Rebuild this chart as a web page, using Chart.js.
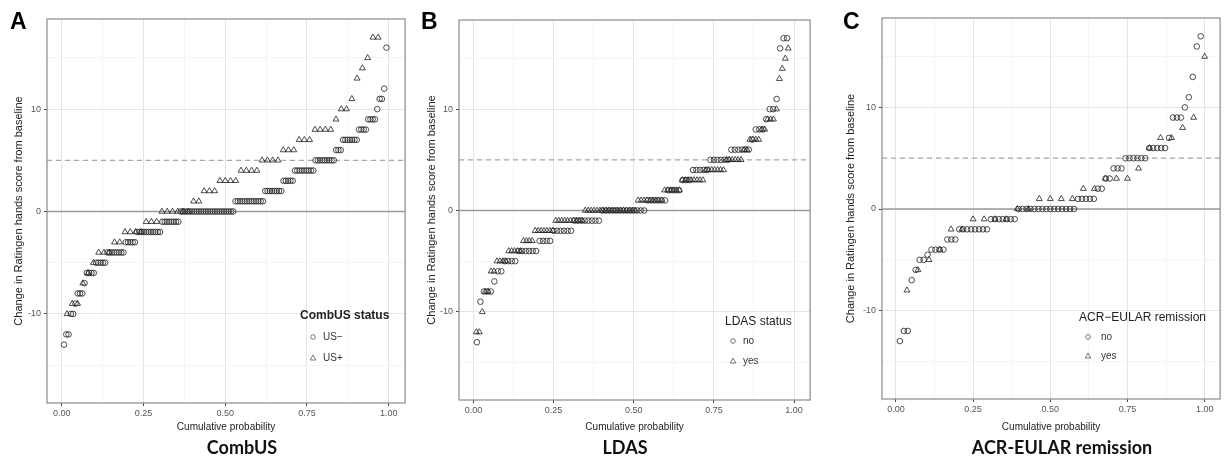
<!DOCTYPE html>
<html>
<head>
<meta charset="utf-8">
<script src="https://cdn.jsdelivr.net/npm/chart.js@4.4.1/dist/chart.umd.min.js"></script>
<style>
  body { margin: 0; background: #fff; font-family: "Liberation Sans", Arial, sans-serif; }
  #page { position: relative; width: 1225px; height: 458px; overflow: hidden; }
  canvas { position: absolute; top: 0; }
  .letter { position: absolute; font: bold 23px "Liberation Sans", Arial, sans-serif; line-height: 23px; color: #000; }
  .subtitle { position: absolute; top: 435px; font: bold 18px Lato, "Open Sans", sans-serif; line-height: 24px; color: #111; transform: translateX(-50%); white-space: nowrap; }
  .leg-title { position: absolute; font-size: 12px; line-height: 14px; color: #222; white-space: nowrap; }
  .leg-item { position: absolute; font-size: 10px; line-height: 12px; color: #333; white-space: nowrap; }
  .leg-sym { position: absolute; }
</style>
</head>
<body>
<div id="page">
  <canvas id="chartA" width="410" height="436" style="left:0px"></canvas>
  <canvas id="chartB" width="400" height="436" style="left:415px"></canvas>
  <canvas id="chartC" width="390" height="436" style="left:835px"></canvas>
</div>
<script>
// Axis ticks (shared by all three panels)
const X_MAJOR = [0, 0.25, 0.5, 0.75, 1];
const X_MINOR = [0.125, 0.375, 0.625, 0.875];
const X_TICK_LABELS = ["0.00", "0.25", "0.50", "0.75", "1.00"];
const Y_MAJOR = [-10, 0, 10];
const Y_MINOR = [-15, -5, 5, 15];
const Y_TICK_LABELS = ["-10", "0", "10"];
const X_LIMITS = [-0.045, 1.05];
const Y_LIMITS = [-18.7, 18.8];
// reference lines: solid at no change, dashed at the threshold
const ZERO_LINE = 0;
const THRESHOLD_LINE = 5;

// Panel A - CombUS: change score levels and how many patients sit on each
const combusNegLevels = [-13, -12, -10, -9, -8, -7, -6, -5, -4, -3, -2, -1, 0, 1, 2, 3, 4, 5, 6, 7, 8, 9, 10, 11, 12, 16];
const combusNegCounts = [1, 2, 2, 1, 3, 1, 4, 5, 8, 5, 11, 8, 24, 13, 8, 5, 9, 9, 3, 7, 4, 4, 1, 2, 1, 1];
const combusNegTotal = 143;
const combusPosLevels = [-10, -9, -7, -6, -5, -4, -3, -2, -1, 0, 1, 2, 3, 4, 5, 6, 7, 8, 9, 10, 11, 13, 14, 15, 17];
const combusPosCounts = [1, 2, 1, 1, 1, 3, 2, 4, 3, 6, 2, 3, 4, 4, 4, 3, 3, 4, 1, 2, 1, 1, 1, 1, 2];
const combusPosTotal = 62;

// Panel B - LDAS
const ldasNoLevels = [-13, -9, -8, -7, -6, -5, -4, -3, -2, -1, 0, 1, 2, 3, 4, 5, 6, 7, 8, 9, 10, 11, 16, 17];
const ldasNoCounts = [1, 1, 3, 1, 2, 4, 6, 4, 6, 8, 13, 6, 4, 3, 5, 6, 6, 1, 3, 1, 2, 1, 1, 2];
const ldasNoTotal = 92;
const ldasYesLevels = [-12, -10, -8, -6, -5, -4, -3, -2, -1, 0, 1, 2, 3, 4, 5, 6, 7, 8, 9, 10, 13, 14, 15, 16];
const ldasYesCounts = [2, 1, 2, 2, 4, 5, 4, 7, 10, 18, 9, 6, 8, 7, 6, 2, 4, 2, 3, 1, 1, 1, 1, 1];
const ldasYesTotal = 109;

// Panel C - ACR-EULAR remission
const remNoLevels = [-13, -12, -7, -6, -5, -4.5, -4, -3, -2, -1, 0, 1, 2, 3, 4, 5, 6, 7, 9, 10, 11, 13, 16, 17];
const remNoCounts = [1, 2, 1, 1, 2, 1, 4, 3, 8, 7, 15, 5, 2, 2, 3, 6, 5, 1, 3, 1, 1, 1, 1, 1];
const remNoTotal = 78;
const remYesLevels = [-8, -6, -5, -4, -2, -1, 0, 1, 2, 3, 4, 6, 7, 8, 9, 15];
const remYesCounts = [1, 1, 1, 1, 2, 4, 2, 4, 2, 3, 1, 1, 2, 1, 1, 1];
const remYesTotal = 28;

const POINT_COLOR = "rgba(35,35,35,0.9)";
const TICK_FONT = { family: "'Liberation Sans', Arial, sans-serif", size: 9 };

// Cumulative probability within a group: k-th ranked patient / group size
function ecdfPoints(levels, counts, total) {
  const pts = [];
  let k = 0;
  for (let i = 0; i < levels.length; i++) {
    for (let j = 0; j < counts[i]; j++) {
      k++;
      pts.push({ x: k / total, y: levels[i] });
    }
  }
  return pts;
}

// Draws the reference lines and the panel frame
const panelDecor = {
  id: "panelDecor",
  beforeDatasetsDraw(chart) {
    const { ctx, chartArea: a, scales } = chart;
    ctx.save();
    let y = scales.y.getPixelForValue(ZERO_LINE);
    ctx.strokeStyle = "#9a9a9a";
    ctx.lineWidth = 1.3;
    ctx.beginPath(); ctx.moveTo(a.left, y); ctx.lineTo(a.right, y); ctx.stroke();
    y = scales.y.getPixelForValue(THRESHOLD_LINE);
    ctx.strokeStyle = "#a8a8a8";
    ctx.setLineDash([5, 4]);
    ctx.beginPath(); ctx.moveTo(a.left, y); ctx.lineTo(a.right, y); ctx.stroke();
    ctx.restore();
  },
  afterDatasetsDraw(chart) {
    const { ctx, chartArea: a } = chart;
    ctx.save();
    ctx.strokeStyle = "#8a8a8a";
    ctx.lineWidth = 1.2;
    ctx.strokeRect(a.left, a.top, a.right - a.left, a.bottom - a.top);
    ctx.restore();
  }
};

function makeChart(id, geom, series) {
  const datasets = series.map(s => ({
    label: s.label,
    data: ecdfPoints(s.levels, s.counts, s.total),
    pointStyle: s.style,
    pointRadius: s.style === "triangle" ? 3.4 : 2.8,
    backgroundColor: "rgba(0,0,0,0)",
    borderColor: POINT_COLOR,
    borderWidth: 0.9,
    showLine: false
  }));

  new Chart(document.getElementById(id), {
    type: "scatter",
    data: { datasets },
    plugins: [panelDecor],
    options: {
      responsive: false,
      animation: false,
      devicePixelRatio: 1,
      layout: { padding: { top: geom.top, right: geom.right, left: 0, bottom: 0 } },
      plugins: { legend: { display: false }, tooltip: { enabled: false } },
      scales: {
        x: {
          type: "linear",
          min: X_LIMITS[0],
          max: X_LIMITS[1],
          afterBuildTicks: s => {
            s.ticks = X_MAJOR.concat(X_MINOR).sort((a, b) => a - b).map(v => ({ value: v }));
          },
          afterFit: s => { s.height = geom.xAxisHeight; },
          border: { display: false },
          grid: {
            color: c => (X_MAJOR.includes(c.tick.value) ? "#e4e4e4" : "#f1f1f1"),
            lineWidth: c => (X_MAJOR.includes(c.tick.value) ? 1 : 0.7),
            tickLength: 3,
            tickColor: c => (X_MAJOR.includes(c.tick.value) ? "#444" : "rgba(0,0,0,0)")
          },
          ticks: {
            autoSkip: false,
            maxRotation: 0,
            padding: 2,
            color: "#555",
            font: TICK_FONT,
            callback: v => {
              const i = X_MAJOR.indexOf(v);
              return i >= 0 ? X_TICK_LABELS[i] : "";
            }
          },
          title: {
            display: true,
            text: "Cumulative probability",
            color: "#222",
            font: { family: "'Liberation Sans', Arial, sans-serif", size: 10 },
            padding: { top: 0, bottom: 3 }
          }
        },
        y: {
          type: "linear",
          min: Y_LIMITS[0],
          max: Y_LIMITS[1],
          afterBuildTicks: s => {
            s.ticks = Y_MAJOR.concat(Y_MINOR).sort((a, b) => a - b).map(v => ({ value: v }));
          },
          afterFit: s => { s.width = geom.yAxisWidth; },
          border: { display: false },
          grid: {
            color: c => (Y_MAJOR.includes(c.tick.value) ? "#e4e4e4" : "#f1f1f1"),
            lineWidth: c => (Y_MAJOR.includes(c.tick.value) ? 1 : 0.7),
            tickLength: 3,
            tickColor: c => (Y_MAJOR.includes(c.tick.value) ? "#444" : "rgba(0,0,0,0)")
          },
          ticks: {
            autoSkip: false,
            padding: 3,
            color: "#555",
            font: TICK_FONT,
            callback: v => {
              const i = Y_MAJOR.indexOf(v);
              return i >= 0 ? Y_TICK_LABELS[i] : "";
            }
          },
          title: {
            display: true,
            text: "Change in Ratingen hands score from baseline",
            color: "#222",
            font: { family: "'Liberation Sans', Arial, sans-serif", size: 11 },
            padding: { top: geom.yTitlePad, bottom: 0 }
          }
        }
      }
    }
  });
}

makeChart("chartA", { top: 19, right: 4, xAxisHeight: 33, yAxisWidth: 47, yTitlePad: 12.4 }, [
  { label: "US−", levels: combusNegLevels, counts: combusNegCounts, total: combusNegTotal, style: "circle" },
  { label: "US+", levels: combusPosLevels, counts: combusPosCounts, total: combusPosTotal, style: "triangle" }
]);
makeChart("chartB", { top: 20, right: 2, xAxisHeight: 36, yAxisWidth: 44, yTitlePad: 10.4 }, [
  { label: "no", levels: ldasNoLevels, counts: ldasNoCounts, total: ldasNoTotal, style: "circle" },
  { label: "yes", levels: ldasYesLevels, counts: ldasYesCounts, total: ldasYesTotal, style: "triangle" }
]);
makeChart("chartC", { top: 18, right: 3, xAxisHeight: 37, yAxisWidth: 47, yTitlePad: 9.4 }, [
  { label: "no", levels: remNoLevels, counts: remNoCounts, total: remNoTotal, style: "circle" },
  { label: "yes", levels: remYesLevels, counts: remYesCounts, total: remYesTotal, style: "triangle" }
]);

// Panel letters, subtitles and the in-panel legends as plain HTML text
const page = document.getElementById("page");
function addDiv(cls, text, left, top, bold) {
  const d = document.createElement("div");
  d.className = cls;
  d.textContent = text;
  d.style.left = left + "px";
  d.style.top = top + "px";
  if (bold !== undefined) d.style.fontWeight = bold ? "bold" : "normal";
  page.appendChild(d);
  return d;
}
function addSymbol(kind, cx, cy) {
  const ns = "http://www.w3.org/2000/svg";
  const svg = document.createElementNS(ns, "svg");
  svg.setAttribute("width", "10");
  svg.setAttribute("height", "10");
  svg.setAttribute("class", "leg-sym");
  svg.style.left = (cx - 5) + "px";
  svg.style.top = (cy - 5) + "px";
  let shape;
  if (kind === "circle") {
    shape = document.createElementNS(ns, "circle");
    shape.setAttribute("cx", "5"); shape.setAttribute("cy", "5"); shape.setAttribute("r", "2.3");
  } else {
    shape = document.createElementNS(ns, "polygon");
    shape.setAttribute("points", "5,2 7.8,7 2.2,7");
  }
  shape.setAttribute("fill", "none");
  shape.setAttribute("stroke", "#555");
  shape.setAttribute("stroke-width", "0.8");
  svg.appendChild(shape);
  page.appendChild(svg);
}

addDiv("letter", "A", 10, 10);
addDiv("letter", "B", 421, 10);
addDiv("letter", "C", 843, 10);

addDiv("subtitle", "CombUS", 242, 435);
addDiv("subtitle", "LDAS", 625, 435);
addDiv("subtitle", "ACR-EULAR remission", 1062, 435);

const legends = [
  { title: "CombUS status", bold: true, x: 300, y: 315, sx: 313, tx: 323, rows: [["circle", "US−", 337], ["triangle", "US+", 358]] },
  { title: "LDAS status", bold: false, x: 725, y: 321, sx: 733, tx: 743, rows: [["circle", "no", 341], ["triangle", "yes", 361]] },
  { title: "ACR−EULAR remission", bold: false, x: 1079, y: 317, sx: 1088, tx: 1101, rows: [["circle", "no", 337], ["triangle", "yes", 356]] }
];
legends.forEach(l => {
  addDiv("leg-title", l.title, l.x, l.y - 7, l.bold);
  l.rows.forEach(r => {
    addSymbol(r[0], l.sx, r[2]);
    addDiv("leg-item", r[1], l.tx, r[2] - 6);
  });
});
</script>
</body>
</html>
